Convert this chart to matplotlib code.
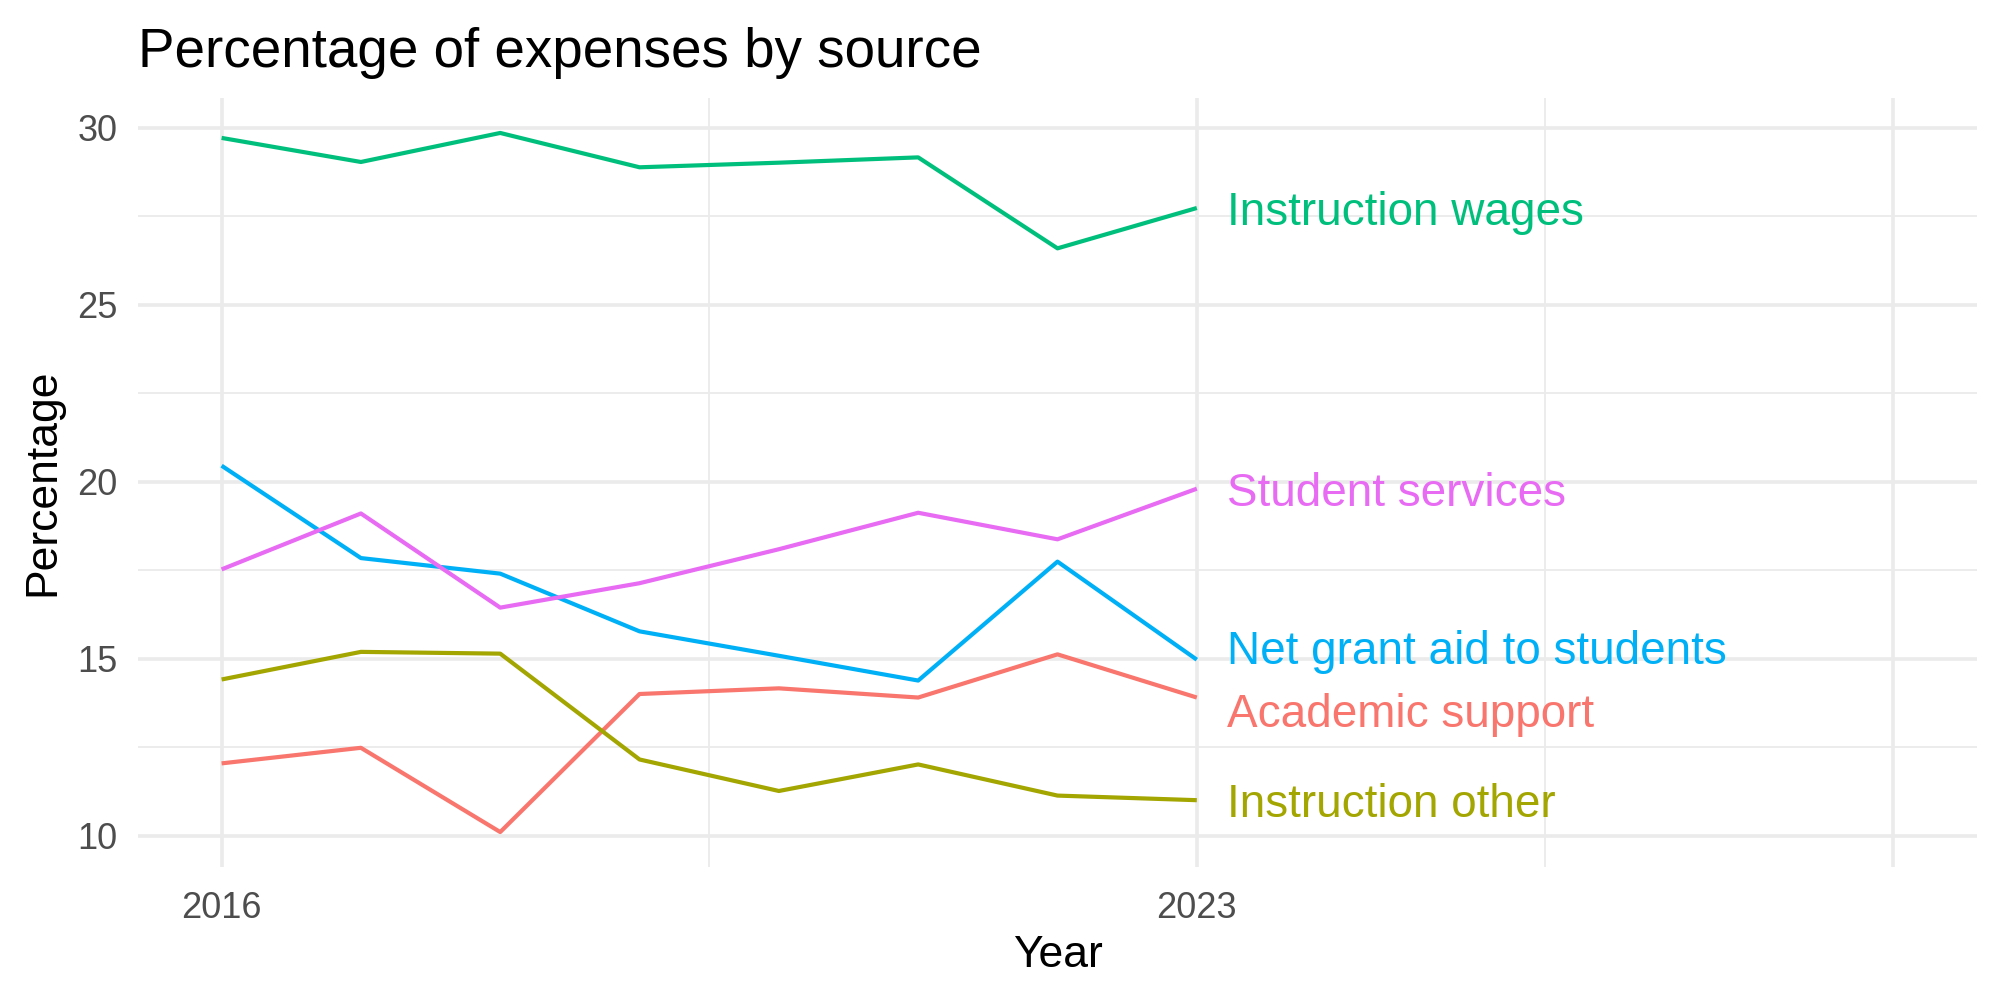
import matplotlib
matplotlib.use("Agg")
import matplotlib.pyplot as plt

plt.rcParams['font.family'] = ['Liberation Sans', 'DejaVu Sans']

years = [2016, 2017, 2018, 2019, 2020, 2021, 2022, 2023]

academic_support = [12.05, 12.49, 10.11, 14.01, 14.17, 13.91, 15.13, 13.91]
instruction_other = [14.42, 15.20, 15.15, 12.16, 11.27, 12.02, 11.14, 11.01]
instruction_wages = [29.72, 29.04, 29.86, 28.89, 29.02, 29.17, 26.60, 27.74]
net_grant_aid = [20.46, 17.85, 17.41, 15.78, 15.09, 14.39, 17.75, 14.98]
student_services = [17.53, 19.11, 16.45, 17.14, 18.10, 19.13, 18.38, 19.81]

series_names = ["Academic support", "Instruction other", "Instruction wages",
                "Net grant aid to students", "Student services"]
series_values = [academic_support, instruction_other, instruction_wages,
                 net_grant_aid, student_services]
colors = ["#F8766D", "#A3A500", "#00BF7D", "#00B0F6", "#E76BF3"]

# label nudges so the end labels don't overlap (like ggrepel)
label_nudge = {"Net grant aid to students": 0.37, "Academic support": -0.36}

x_breaks = [2016, 2023, 2028]
x_labels = ["2016", "2023", ""]
x_minor = [2019.5, 2025.5]
y_breaks = [10, 15, 20, 25, 30]
y_minor = [12.5, 17.5, 22.5, 27.5]

fig = plt.figure(figsize=(10, 5), dpi=200)
ax = fig.add_axes([0.069, 0.133, 0.9195, 0.769])

for name, vals, col in zip(series_names, series_values, colors):
    ax.plot(years, vals, color=col, lw=1.5, solid_capstyle='butt', zorder=3)
    ax.annotate(name, xy=(years[-1], vals[-1] + label_nudge.get(name, 0)),
                xytext=(11, -1.8), textcoords='offset points',
                color=col, fontsize=16.5, va='center', ha='left')

ax.set_xlim(2016 - 0.6, 2028 + 0.6)
lo, hi = 10.11, 29.86
pad = (hi - lo) * 0.05
ax.set_ylim(lo - pad, hi + pad)

ax.set_xticks(x_breaks)
ax.set_xticklabels(x_labels)
ax.set_xticks(x_minor, minor=True)
ax.set_yticks(y_breaks)
ax.set_yticks(y_minor, minor=True)

ax.grid(which='major', color='#EBEBEB', lw=1.3, zorder=0)
ax.grid(which='minor', color='#EBEBEB', lw=0.65, zorder=0)
ax.set_axisbelow(True)
for s in ax.spines.values():
    s.set_visible(False)
ax.tick_params(which='both', length=0)
ax.tick_params(axis='x', pad=8.5, labelsize=13, labelcolor='#4D4D4D')
ax.tick_params(axis='y', pad=7.5, labelsize=13, labelcolor='#4D4D4D')

ax.set_xlabel('Year', fontsize=16, labelpad=3.5)
ax.set_ylabel('Percentage', fontsize=16, labelpad=5)
ax.set_title('Percentage of expenses by source', fontsize=19.7, loc='left', pad=11)

fig.savefig('out.png', dpi=200)
